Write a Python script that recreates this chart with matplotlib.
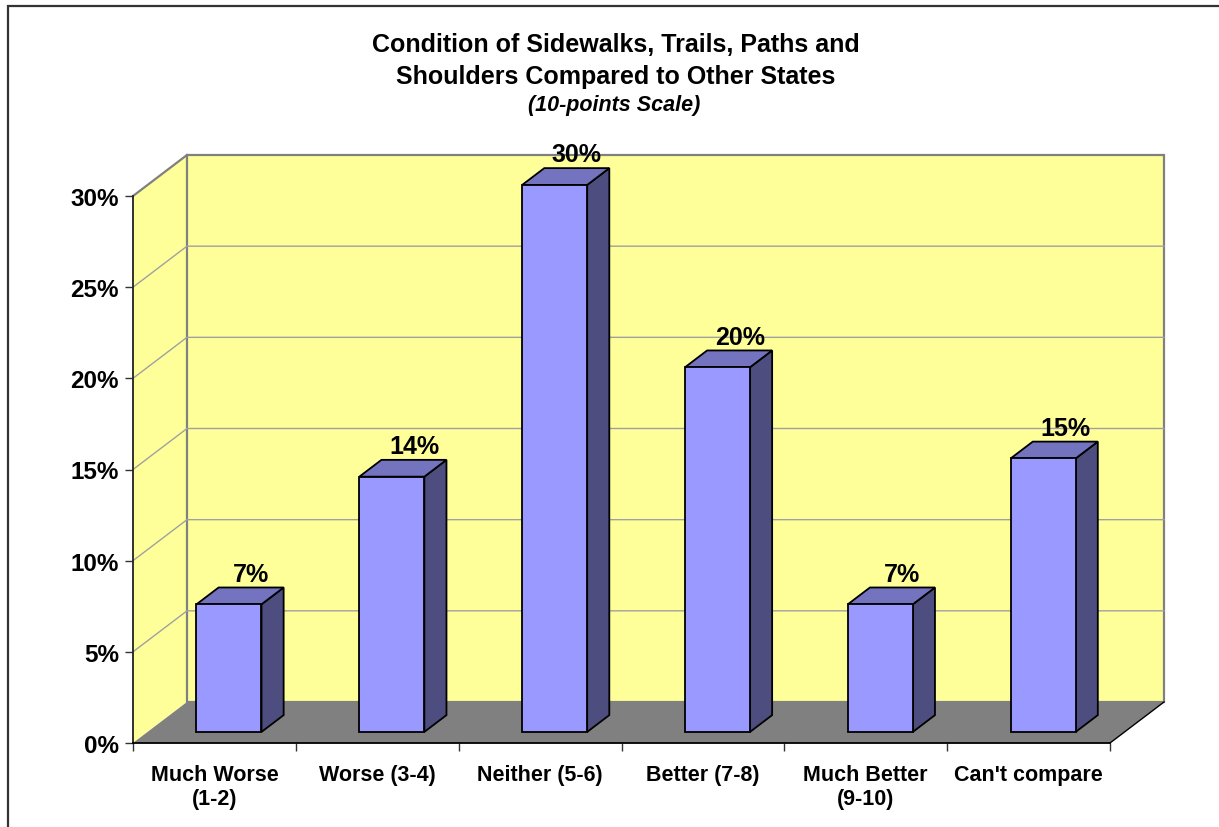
import numpy as np
import matplotlib
matplotlib.use('Agg')
import matplotlib.pyplot as plt
from matplotlib.patches import Polygon, Rectangle

plt.rcParams['font.family'] = ['Liberation Sans', 'DejaVu Sans']

# Survey data
categories = ['Much Worse\n(1-2)', 'Worse (3-4)', 'Neither (5-6)', 'Better (7-8)',
              'Much Better\n(9-10)', "Can't compare"]
values = [7, 14, 30, 20, 7, 15]
y_ticks = [0, 5, 10, 15, 20, 25, 30]

W, H = 1219, 828
fig = plt.figure(figsize=(W / 100, H / 100), dpi=100)
fig.patch.set_facecolor('white')

# front plane of the 3d box, in pixels
left, right, top, bottom = 133, 1110, 197, 744
ax = fig.add_axes([left / W, (H - bottom) / H, (right - left) / W, (bottom - top) / H])
n = len(values)
ymax = 30
ax.set_xlim(0, n)
ax.set_ylim(0, ymax)
ax.set_facecolor('none')

# depth of the box in data units
px_x = (right - left) / n
px_y = (bottom - top) / ymax
DX = 54 / px_x
DY = 41 / px_y

yellow = '#FFFF99'
edge_gray = '#808080'

# side wall + back wall
side = Polygon([(0, 0), (DX, DY), (DX, ymax + DY), (0, ymax)], closed=True,
               facecolor=yellow, edgecolor='none', zorder=1, clip_on=False)
back = Polygon([(DX, DY), (n + DX, DY), (n + DX, ymax + DY), (DX, ymax + DY)], closed=True,
               facecolor=yellow, edgecolor=edge_gray, lw=1.6, zorder=1, clip_on=False)
ax.add_patch(side)
ax.add_patch(back)
ax.plot([0, DX], [ymax, ymax + DY], color=edge_gray, lw=1.6, zorder=2, clip_on=False)

# gridlines on the walls
for t in y_ticks[1:-1]:
    ax.plot([0, DX, n + DX], [t, t + DY, t + DY], color='#A0A0A0', lw=1.0,
            zorder=2, clip_on=False)

# floor
floor = Polygon([(0, 0), (n, 0), (n + DX, DY), (DX, DY)], closed=True,
                facecolor='#808080', edgecolor='none', zorder=3, clip_on=False)
ax.add_patch(floor)
ax.plot([n, n + DX], [0, DY], color='black', lw=1.0, zorder=4, clip_on=False)

# bars
bw = 65 / px_x
f0, f1 = 0.27, 0.68
for i, v in enumerate(values):
    xl = i + 0.5 - bw / 2
    xr = xl + bw
    front = Rectangle((xl + f0 * DX, f0 * DY), bw, v, facecolor='#9999FF',
                      edgecolor='black', lw=1.3, zorder=5, clip_on=False)
    topf = Polygon([(xl + f0 * DX, v + f0 * DY), (xr + f0 * DX, v + f0 * DY),
                    (xr + f1 * DX, v + f1 * DY), (xl + f1 * DX, v + f1 * DY)], closed=True,
                   facecolor='#7373BF', edgecolor='black', lw=1.3, zorder=5, clip_on=False)
    sidef = Polygon([(xr + f0 * DX, f0 * DY), (xr + f1 * DX, f1 * DY),
                     (xr + f1 * DX, v + f1 * DY), (xr + f0 * DX, v + f0 * DY)], closed=True,
                    facecolor='#4D4D80', edgecolor='black', lw=1.3, zorder=5, clip_on=False)
    ax.add_patch(sidef)
    ax.add_patch(topf)
    ax.add_patch(front)
    ax.text(i + 0.5 + f1 * DX, v + f1 * DY + 0.1, '%d%%' % v, ha='center', va='bottom',
            fontsize=18, fontweight='bold', zorder=6, clip_on=False)

# axes
for s in ['top', 'right']:
    ax.spines[s].set_visible(False)
ax.spines['left'].set_color('#222222')
ax.spines['bottom'].set_color('black')
ax.spines['left'].set_linewidth(1.3)
ax.spines['bottom'].set_linewidth(1.3)
ax.spines['left'].set_zorder(7)
ax.spines['bottom'].set_zorder(7)

ax.set_yticks(y_ticks)
ax.set_yticklabels(['%d%%' % t for t in y_ticks], fontsize=17.5, fontweight='bold')
ax.tick_params(axis='y', direction='out', length=6, width=1, color='#333333', pad=4)

ax.set_xticks(np.arange(n + 1))
ax.set_xticklabels([])
ax.set_xticks(np.arange(n) + 0.5, minor=True)
ax.set_xticklabels(categories, minor=True, fontsize=15.5, fontweight='bold', linespacing=1.2)
ax.tick_params(axis='x', which='major', direction='out', length=6, width=1, color='#333333')
ax.tick_params(axis='x', which='minor', length=0, pad=15)

# titles
fig.text(616 / W, 1 - 45 / H, 'Condition of Sidewalks, Trails, Paths and', ha='center',
         va='center', fontsize=18, fontweight='bold')
fig.text(616 / W, 1 - 77 / H, 'Shoulders Compared to Other States', ha='center',
         va='center', fontsize=18, fontweight='bold')
fig.text(614 / W, 1 - 106 / H, '(10-points Scale)', ha='center', va='center',
         fontsize=15.5, fontweight='bold', style='italic')

# outer chart border
fig.add_artist(Rectangle((8 / W, -0.1), 2, 1.1 - 7 / H, transform=fig.transFigure,
                         facecolor='none', edgecolor='#333333', lw=1.6))

fig.savefig('out.png', dpi=100)
